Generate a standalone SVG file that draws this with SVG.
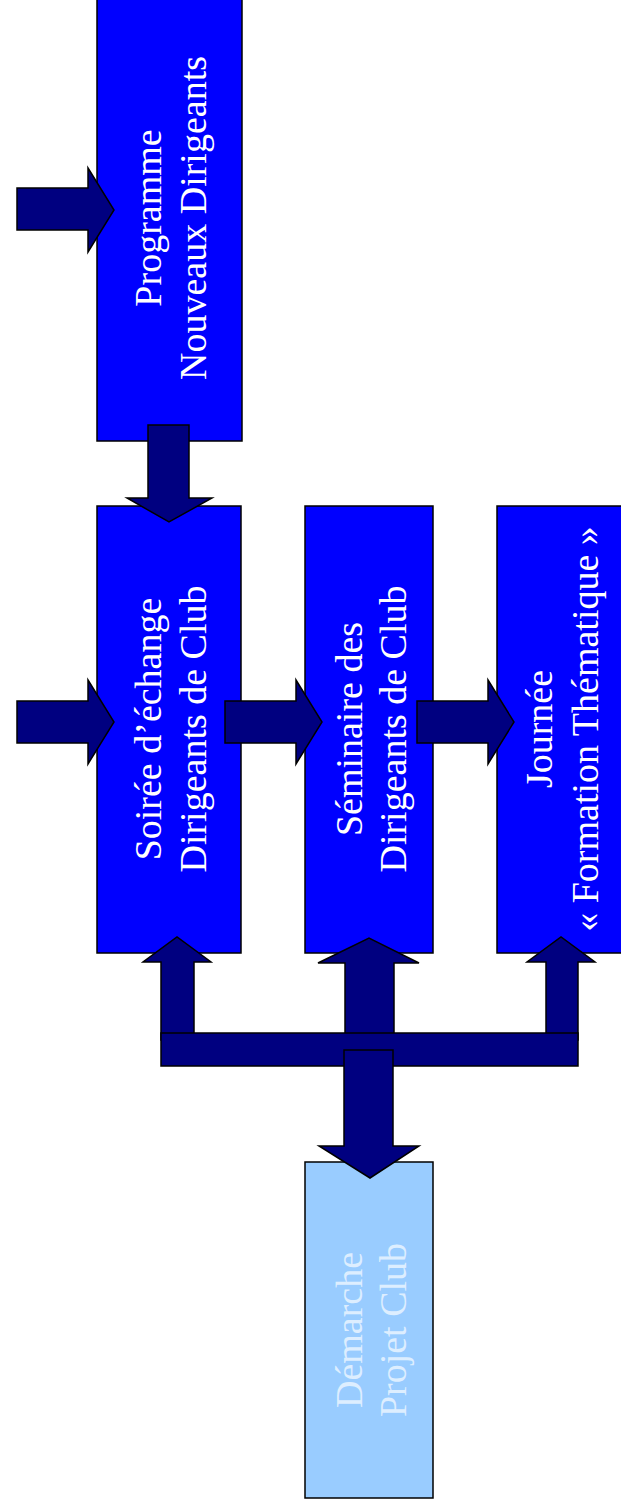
<svg xmlns="http://www.w3.org/2000/svg" width="621" height="1508" viewBox="0 0 621 1508">
<style>
.box{fill:#0000FF;stroke:#000;stroke-width:1.5}
.pale{fill:#99CCFF;stroke:#000;stroke-width:1.5}
.arr{fill:#000080;stroke:#000;stroke-width:1.5;stroke-linejoin:miter}
.t{font-family:"Liberation Serif","Times New Roman",serif;font-size:38px;fill:#FFFFFF;text-anchor:middle}
.tp{font-family:"Liberation Serif","Times New Roman",serif;font-size:38px;fill:#DDEEFF;text-anchor:middle}
</style>
<rect x="0" y="0" width="621" height="1508" fill="#FFFFFF"/>
<g id="node-programme">
<rect class="box" x="97" y="-5" width="145" height="446"/>
<text class="t" transform="translate(161,218) rotate(-90)">Programme</text>
<text class="t" transform="translate(206,218) rotate(-90)">Nouveaux Dirigeants</text>
</g>
<g id="node-soiree">
<rect class="box" x="97" y="506" width="144" height="447"/>
<text class="t" transform="translate(161,729) rotate(-90)">Soirée d’échange</text>
<text class="t" transform="translate(206,729) rotate(-90)">Dirigeants de Club</text>
</g>
<g id="node-seminaire">
<rect class="box" x="305" y="506" width="128" height="447"/>
<text class="t" transform="translate(362,729) rotate(-90)">Séminaire des</text>
<text class="t" transform="translate(406,729) rotate(-90)">Dirigeants de Club</text>
</g>
<g id="node-journee">
<rect class="box" x="497" y="506" width="128" height="447"/>
<text class="t" transform="translate(552,729) rotate(-90)">Journée</text>
<text class="t" transform="translate(598,729) rotate(-90)">« Formation Thématique »</text>
</g>
<g id="node-demarche">
<rect class="pale" x="305" y="1162" width="128" height="336"/>
<text class="tp" transform="translate(362,1330) rotate(-90)">Démarche</text>
<text class="tp" transform="translate(406,1330) rotate(-90)">Projet Club</text>
</g>
<g id="connectors">
<polygon class="arr" points="17,188 88,188 88,168 114,210 88,252 88,230 17,230"/>
<polygon class="arr" points="17,701 88,701 88,680 114,722 88,764 88,743 17,743"/>
<polygon class="arr" points="225,701 296,701 296,680 322,722 296,764 296,743 225,743"/>
<polygon class="arr" points="417,701 488,701 488,680 514,722 488,764 488,743 417,743"/>
<polygon class="arr" points="148,425 189,425 189,498 212,498 169,522 127,498 148,498"/>
<polygon class="arr" points="161,1040 161,962 143,962 177,937 211,962 194,962 194,1040"/>
<polygon class="arr" points="345,1040 345,963 318,963 369,938 419,963 394,963 394,1040"/>
<polygon class="arr" points="546,1040 546,962 527,962 561,937 595,962 578,962 578,1040"/>
<rect class="arr" x="161" y="1033" width="417" height="33"/>
<polygon class="arr" points="344,1050 393,1050 393,1146 419,1146 370,1178 319,1146 344,1146"/>
</g>
</svg>
